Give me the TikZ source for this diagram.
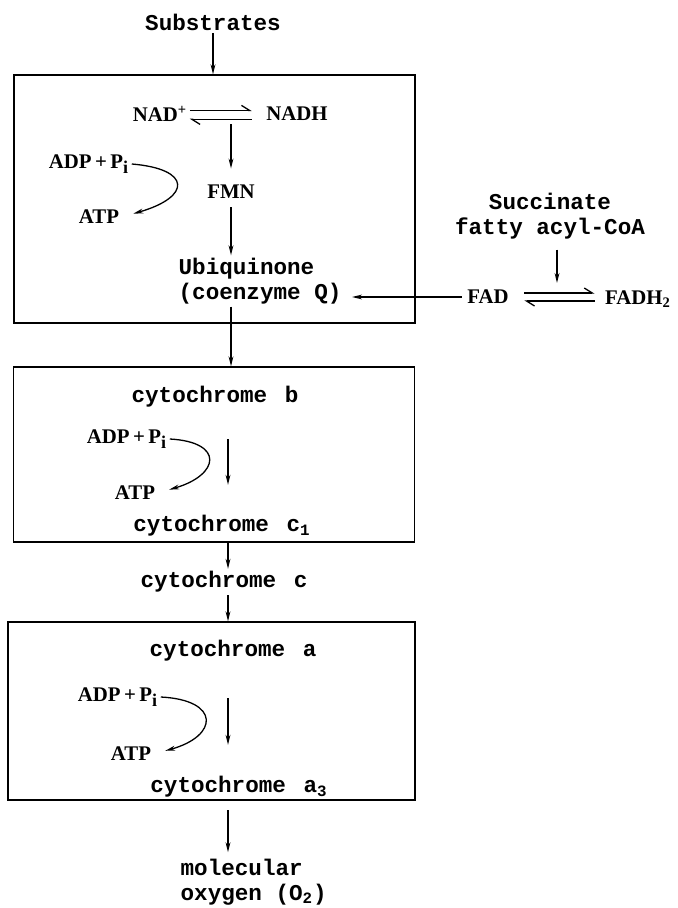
\documentclass[tikz,border=0pt]{standalone}
\usepackage{fontspec}
\setmainfont{Liberation Serif}
\newfontfamily\monofam{Liberation Mono}
\usetikzlibrary{arrows.meta, positioning}

\tikzset{
    cpd/.style={font=\bfseries\fontsize{10.4}{12}\selectfont, inner sep=1pt},
    enz/.style={font=\monofam\bfseries\fontsize{11.3}{12.5}\selectfont, inner sep=1pt},
    stagebox/.style={draw, inner sep=0pt, minimum width=200.5pt},
    eqarrow/.style={-{Straight Barb[harpoon,length=4pt,width=5pt]}},
}

\begin{document}
\begin{tikzpicture}[
    x=0.5pt, y=-0.5pt,
    >={Stealth[length=5pt,width=2.4pt]},
    line width=0.65pt,
]
\useasboundingbox (0,0) rectangle (677,908);
% Boxes
\node[stagebox, minimum height=124pt] (box1) at (214.5,199) {};
\node[stagebox, minimum height=87.5pt] (box2) at (214,454.5) {};
\node[stagebox, minimum width=203.5pt, minimum height=89pt] (box3) at (211.5,711) {};
% Nodes
\node[enz] (subs) at (213,22) {Substrates};
\node[cpd] (nad) at (160,114) {NAD\textsuperscript{+}};
\node[cpd] (nadh) at (297,114) {NADH};
\node[cpd] (fmn) at (231,192) {FMN};
\node[enz, align=left, anchor=west] (ubq) at (176,281) {Ubiquinone\\(coenzyme Q)};
\node[cpd] (adp1) at (89,164) {ADP\,+\,P\textsubscript{\fontsize{9}{9}\selectfont i}};
\node[cpd] (atp1) at (99,217) {ATP};
\node[enz, align=center] (succ) at (550,216) {Succinate\\fatty acyl-CoA};
\node[cpd] (fad) at (488,297) {FAD};
\node[cpd] (fadh) at (638,299) {FADH\textsubscript{2}};
\coordinate (fadmid) at (557,297);
\node[enz] (cytb) at (215,397) {cytochrome\hspace{2pt} b};
\node[cpd] (adp2) at (127,439) {ADP\,+\,P\textsubscript{\fontsize{9}{9}\selectfont i}};
\node[cpd] (atp2) at (135,493) {ATP};
\node[enz] (cytc1) at (222,526) {cytochrome\hspace{2pt} c\textsubscript{1}};
\node[enz] (cytc) at (224,582) {cytochrome\hspace{2pt} c};
\node[enz] (cyta) at (233,651) {cytochrome\hspace{2pt} a};
\node[cpd] (adp3) at (118,697) {ADP\,+\,P\textsubscript{\fontsize{9}{9}\selectfont i}};
\node[cpd] (atp3) at (131,754) {ATP};
\node[enz] (cyta3) at (239,787) {cytochrome\hspace{2pt} a\textsubscript{3}};
\node[enz, align=left, anchor=west] (oxy) at (178,882) {molecular\\oxygen (O\textsubscript{2})};
\coordinate (spine) at (228,0);
% Arrows
\draw[->] (subs.south) -- (subs.south |- box1.north);
\draw[eqarrow, shorten >=6pt] ([yshift=1.8pt]nad.east) -- ([yshift=1.8pt]nadh.west);
\draw[eqarrow, shorten <=6pt] ([yshift=-2.7pt]nadh.west) -- ([yshift=-2.7pt]nad.east);
\draw[->, shorten >=7pt] (fmn.north |- nad.south) -- (fmn.north);
\draw[->, shorten <=3pt] (fmn.south) -- (fmn.south |- ubq.north);
\draw[->, shorten >=6pt] (adp1.east) .. controls +(60,5) and +(70,-20) .. (atp1.east);
\draw[->, shorten <=4pt, shorten >=7pt] (succ.south -| fadmid) -- (fadmid);
\draw[eqarrow, shorten <=6.5pt, shorten >=4pt] ([yshift=2pt]fad.east) -- ([yshift=2pt]fad.east -| fadh.west);
\draw[eqarrow, shorten <=4pt, shorten >=6.5pt] ([yshift=-2pt]fad.east -| fadh.west) -- ([yshift=-2pt]fad.east);
\draw[->, shorten <=1.5pt, shorten >=4pt] (fad.west) -- (fad.west -| ubq.east);
\draw[->] (fmn |- ubq.south) -- (fmn |- box2.north);
\draw[->, shorten <=14.5pt, shorten >=14pt] (cytb.south -| spine) -- (cytc1.north -| spine);
\draw[->, shorten >=6pt] (adp2.east) .. controls +(55,3) and +(62,-18) .. (atp2.east);
\draw[->] (box2.south -| spine) -- (cytc.north -| spine);
\draw[->] (cytc.south -| spine) -- (box3.north -| spine);
\draw[->, shorten <=17pt, shorten >=14.5pt] (cyta.south -| spine) -- (cyta3.north -| spine);
\draw[->, shorten >=6pt] (adp3.east) .. controls +(60,3) and +(65,-18) .. (atp3.east);
\draw[->, shorten <=5pt, shorten >=2pt] (cyta3.south -| spine) -- (oxy.north -| spine);
\end{tikzpicture}
\end{document}
